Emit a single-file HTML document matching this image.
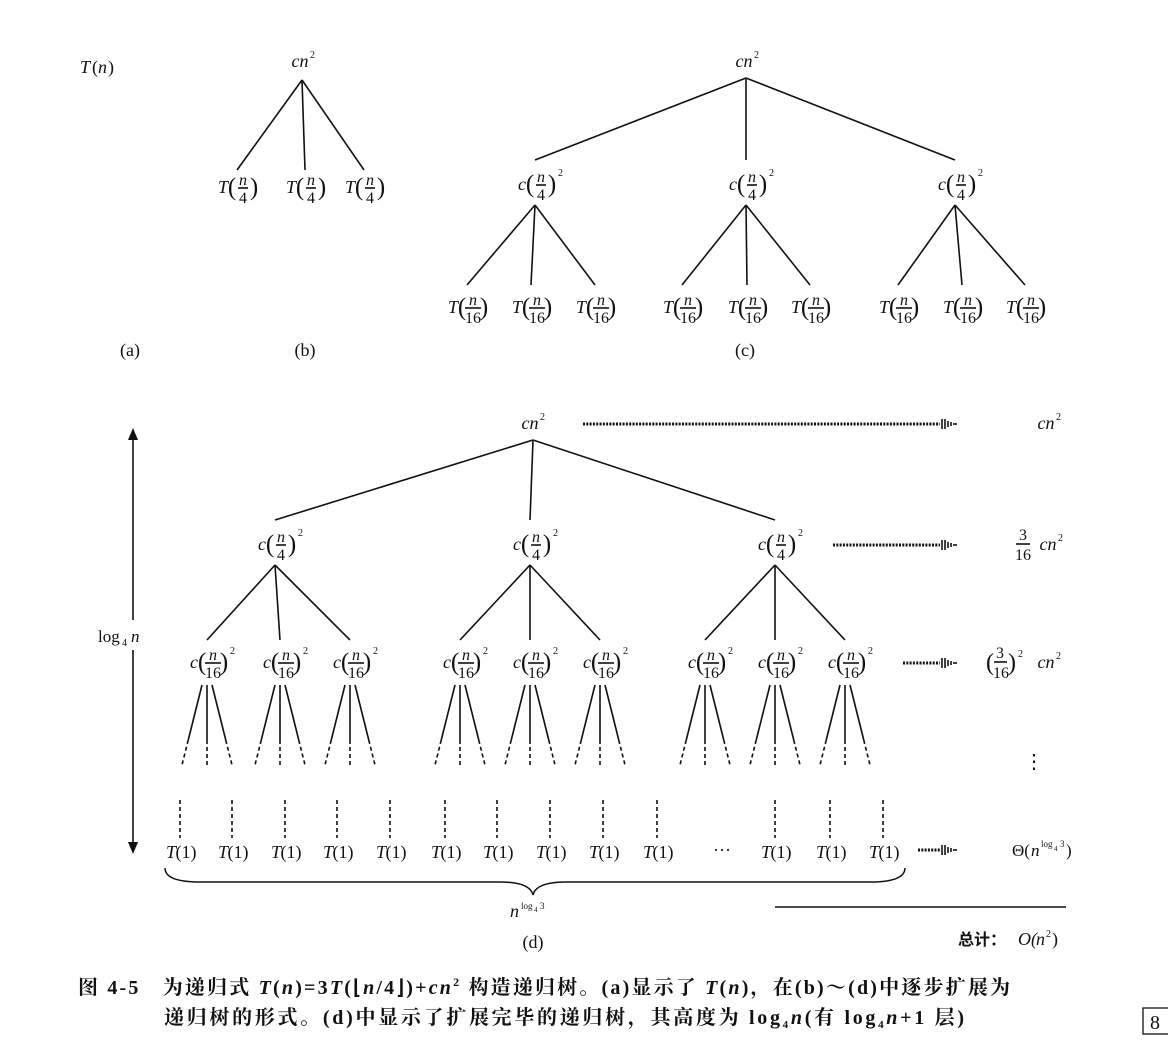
<!DOCTYPE html>
<html><head><meta charset="utf-8"><style>
body{margin:0;background:#fff;}
svg{display:block;font-family:"Liberation Serif","Noto Serif CJK SC",serif;}
.cap{font-family:"Liberation Serif","Noto Serif CJK SC",serif;font-size:20px;fill:#111;font-weight:bold;}
</style></head><body>
<svg id="s" width="1168" height="1050" viewBox="0 0 1168 1050">
<g id="g" stroke="#111" fill="#111"></g>
<text class="cap" x="78" y="994" textLength="932" lengthAdjust="spacing">图 4-5　为递归式 <tspan font-style="italic">T</tspan>(<tspan font-style="italic">n</tspan>)=3<tspan font-style="italic">T</tspan>(⌊<tspan font-style="italic">n</tspan>/4⌋)+<tspan font-style="italic">cn</tspan><tspan font-size="12" dy="-8">2</tspan><tspan dy="8"> 构造递归树。(a)显示了 </tspan><tspan font-style="italic">T</tspan>(<tspan font-style="italic">n</tspan>)，在(b)～(d)中逐步扩展为</text>
<text class="cap" x="164" y="1024" textLength="800" lengthAdjust="spacing">递归树的形式。(d)中显示了扩展完毕的递归树，其高度为 log<tspan font-size="11" dy="4">4</tspan><tspan dy="-4" font-style="italic">n</tspan>(有 log<tspan font-size="11" dy="4">4</tspan><tspan dy="-4" font-style="italic">n</tspan>+1 层)</text>
<rect x="1143" y="1008" width="30" height="26" fill="none" stroke="#111" stroke-width="1.3"/>
<text x="1150" y="1029" font-size="20" fill="#111">8</text>
</svg>
<script>
const NS="http://www.w3.org/2000/svg";
const G=document.getElementById('g');
function el(t,a,txt){const e=document.createElementNS(NS,t);for(const k in a)e.setAttribute(k,a[k]);if(txt!==undefined)e.textContent=txt;G.appendChild(e);return e;}
function ln(x1,y1,x2,y2,dash){const e=el('line',{x1,y1,x2,y2,'stroke-width':1.6});if(dash)e.setAttribute('stroke-dasharray',dash);

return e;}
function tx(x,y,s,o){o=o||{};const e=el('text',Object.assign({x,y,'font-size':18,stroke:'none','text-anchor':'middle'},o),s);

return e;}
function node(x,y,pre,num,den,sq){
  tx(x-15,y+5,pre,{'font-style':'italic','text-anchor':'end'});
  tx(x-11,y+7,'(',{'font-size':25});
  tx(x,y-3,num,{'font-style':'italic','font-size':16});
  ln(x-(den.length>1?8:5),y,x+(den.length>1?8:5),y);
  tx(x,y+15,den,{'font-size':16});
  tx(x+11,y+7,')',{'font-size':25});
  if(sq)tx(x+17,y-9,'2',{'font-size':10,'text-anchor':'start'});
}
function cn2(x,y){tx(x,y,'cn',{'font-style':'italic'});tx(x+10,y-9,'2',{'font-size':10,'text-anchor':'start'});}
function dots(x1,x2,y){const e=ln(x1,y,x2,y,'2 1.3');e.setAttribute('stroke-width',3);
ln(x2+2,y-5,x2+2,y+5);ln(x2+5,y-5,x2+5,y+5);ln(x2+8,y-3,x2+8,y+3);ln(x2+11,y-2,x2+11,y+2);ln(x2+13,y,x2+17,y);}
function T1(x,y){tx(x-9,y,'T',{'font-style':'italic'});tx(x+6,y,'(1)');}

tx(80,73,'T',{'font-style':'italic','text-anchor':'start'});tx(92,73,'(',{'text-anchor':'start'});tx(98,73,'n',{'font-style':'italic','text-anchor':'start'});tx(108,73,')',{'text-anchor':'start'});
cn2(300,67);
const bKids=[237,305,364];
bKids.forEach(x=>{ln(302,80,x,170);node(x+6,188,'T','n','4',false);});
cn2(744,67);
const cL1=[535,746,955];
const cL2=[[467,531,595],[682,747,810],[898,962,1025]];
cL1.forEach((x,i)=>{ln(746,78,x,160);node(x+6,185,'c','n','4',true);
  cL2[i].forEach(k=>{ln(x,205,k,285);node(k+6,308,'T','n','16',false);});});
tx(130,356,'(a)');tx(305,356,'(b)');tx(745,356,'(c)');

cn2(530,429);dots(583,940,424);cn2(1046,429);
const dL1=[275,530,775];
const dL2=[[207,280,350],[460,530,600],[705,775,845]];
dL1.forEach((x,i)=>{ln(533,440,x,520);node(x+6,545,'c','n','4',true);
  dL2[i].forEach(k=>{ln(x,565,k,640);node(k+6,663,'c','n','16',true);
    [-25,0,25].forEach(d=>{ln(k+d*0.2,685,k+d*0.75,740);ln(k+d*0.75,740,k+d,765,'4 3');});});});
dots(833,940,545);
tx(1023,540,'3',{'font-size':16});ln(1016,544,1030,544);tx(1023,560,'16',{'font-size':16});cn2(1048,550);
dots(903,940,663);
tx(990,670,'(',{'font-size':24});tx(1000,658,'3',{'font-size':16});ln(994,662,1007,662);tx(1001,678,'16',{'font-size':16});tx(1012,670,')',{'font-size':24});
tx(1018,657,'2',{'font-size':10,'text-anchor':'start'});cn2(1046,668);
tx(1034,768,'⋮',{'font-size':20});
const leaves=[180,232,285,337,390,445,497,550,603,657,775,830,883];
leaves.forEach(x=>{ln(x,800,x,838,'4 3');T1(x,858);});
tx(722,856,'···');
dots(918,940,850);
tx(1012,856,'Θ(',{'font-size':17,'text-anchor':'start'});tx(1031,856,'n',{'font-size':17,'font-style':'italic','text-anchor':'start'});
tx(1041,847,'log',{'font-size':9,'text-anchor':'start'});tx(1054,851,'4',{'font-size':7,'text-anchor':'start'});tx(1060,847,'3',{'font-size':9,'text-anchor':'start'});tx(1066,856,')',{'font-size':17,'text-anchor':'start'});
ln(133,440,133,620);ln(133,650,133,842);el('path',{d:'M128,440 L133,428 L138,440Z',stroke:'none'});el('path',{d:'M128,842 L133,854 L138,842Z',stroke:'none'});
tx(98,642,'log',{'font-size':17,'text-anchor':'start'});tx(122,646,'4',{'font-size':10,'text-anchor':'start'});tx(131,642,'n',{'font-style':'italic','font-size':17,'text-anchor':'start'});
el('path',{d:'M165,868 Q165,882 200,882 L500,882 Q530,882 533,895 Q536,882 566,882 L870,882 Q905,882 905,868',fill:'none','stroke-width':1.5});
tx(510,917,'n',{'font-style':'italic','text-anchor':'start'});tx(521,909,'log',{'font-size':9,'text-anchor':'start'});tx(534,912,'4',{'font-size':7,'text-anchor':'start'});tx(540,909,'3',{'font-size':9,'text-anchor':'start'});
ln(775,907,1066,907);
tx(533,948,'(d)');
tx(958,945,'总计：',{'font-size':16,'font-family':'Noto Sans CJK SC','text-anchor':'start','font-weight':'bold'});tx(1018,945,'O(',{'font-style':'italic','text-anchor':'start'});tx(1036,945,'n',{'font-style':'italic','text-anchor':'start'});tx(1046,937,'2',{'font-size':10,'text-anchor':'start'});tx(1052,945,')',{'text-anchor':'start'});
</script>
</body></html>
